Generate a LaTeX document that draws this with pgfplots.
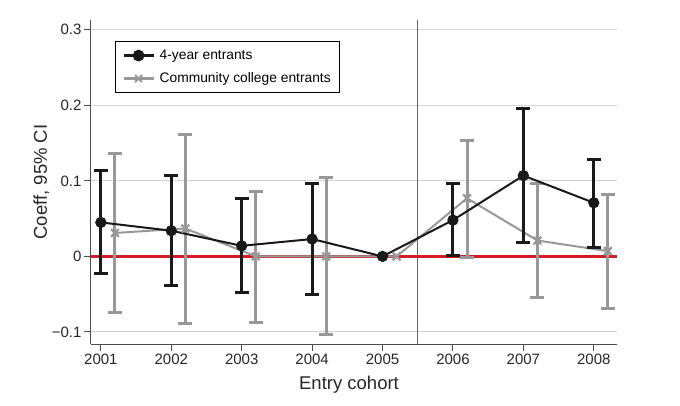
\documentclass[border=0pt]{standalone}
\usepackage{pgfplots}
\usepackage{pgfplotstable}
\pgfplotsset{compat=1.18}
\usepackage{fontspec}
\setmainfont{Liberation Sans}
\definecolor{axisgray}{RGB}{75,75,75}
\definecolor{gridgray}{RGB}{212,212,212}
\definecolor{vgray}{RGB}{100,100,100}
\definecolor{ccgray}{RGB}{152,152,152}
\definecolor{fyblack}{RGB}{25,25,25}
\definecolor{zred}{RGB}{212,28,34}

\pgfplotstableread{
x     y      lo      hi
2001  0.045  -0.023  0.114
2002  0.034  -0.039  0.107
2003  0.014  -0.048  0.076
2004  0.023  -0.051  0.097
2005  0.000   0.000  0.000
2006  0.048   0.001  0.096
2007  0.107   0.019  0.196
2008  0.071   0.012  0.128
}\fouryear
\pgfplotstableread{
x     y      lo      hi
2001  0.045  -0.023  0.114
2002  0.034  -0.039  0.107
2003  0.014  -0.048  0.076
2004  0.023  -0.051  0.097
2006  0.048   0.001  0.096
2007  0.107   0.019  0.196
2008  0.071   0.012  0.128
}\fouryearci
\pgfplotstableread{
x       y      lo      hi
2001.2  0.031  -0.074  0.136
2002.2  0.037  -0.089  0.162
2003.2  0.000  -0.087  0.086
2004.2  0.000  -0.103  0.104
2005.2  0.000   0.000  0.000
2006.2  0.077  -0.002  0.153
2007.2  0.021  -0.054  0.096
2008.2  0.007  -0.069  0.082
}\community
\pgfplotstableread{
x       y      lo      hi
2001.2  0.031  -0.074  0.136
2002.2  0.037  -0.089  0.162
2003.2  0.000  -0.087  0.086
2004.2  0.000  -0.103  0.104
2006.2  0.077  -0.002  0.153
2007.2  0.021  -0.054  0.096
2008.2  0.007  -0.069  0.082
}\communityci

\begin{document}
\begin{tikzpicture}
\begin{axis}[
  at={(0pt,0pt)}, anchor=south west,
  scale only axis, width=526pt, height=324pt,
  xmin=2000.86, xmax=2008.33, ymin=-0.116, ymax=0.313,
  axis lines=left,
  axis line style={-, draw=axisgray, line width=1pt},
  tick align=outside,
  major tick length=7pt,
  every tick/.style={axisgray, line width=1pt},
  xtick={2001,2002,2003,2004,2005,2006,2007,2008},
  xticklabels={2001,2002,2003,2004,2005,2006,2007,2008},
  ytick={-0.1,0,0.1,0.2,0.3},
  yticklabels={−0.1,0,0.1,0.2,0.3},
  tick label style={font=\fontsize{15}{18}\selectfont, text=black!85},
  xticklabel style={yshift=1pt},
  yticklabel style={xshift=1pt},
  ymajorgrids,
  grid style={gridgray, line width=0.9pt},
  xlabel={Entry cohort},
  ylabel={Coeff, 95\% CI},
  label style={font=\fontsize{18.5}{22}\selectfont, text=black!85},
  xlabel style={at={(axis description cs:0.5,0)}, anchor=base, yshift=-45pt, xshift=-5pt},
  ylabel style={at={(axis description cs:-0.0837,0.5)}, anchor=base},
  legend cell align=left,
  legend image code/.code={%
    \draw[mark repeat=2,mark phase=2,#1] plot coordinates {(0pt,0pt) (15pt,0pt) (30pt,0pt)};},
  legend style={at={(axis description cs:0.0456,0.935)}, anchor=north west,
    draw=black, line width=1pt, font=\fontsize{13.8}{16}\selectfont,
    inner xsep=6.5pt, inner ysep=5pt, row sep=5pt,
    nodes={inner sep=2.5pt, text height=10pt, text depth=3pt},
    /tikz/every odd column/.append style={column sep=2pt}},
  clip=false,
]
% vertical line
\addplot[vgray, line width=1.3pt, forget plot] coordinates {(2005.5,-0.116) (2005.5,0.313)};
% zero line
\addplot[zred, line width=2.3pt, forget plot] coordinates {(2000.86,0) (2008.33,0)};
% community college CIs
\addplot[ccgray, only marks, mark=none, forget plot,
  error bars/.cd, y dir=both, y explicit,
  error bar style={line width=3pt, ccgray},
  error mark options={rotate=90, mark size=7pt, line width=3pt, ccgray}]
  table[x=x, y=y, y error plus expr=\thisrow{hi}-\thisrow{y}, y error minus expr=\thisrow{y}-\thisrow{lo}] {\communityci};
% community college line
\addplot[ccgray, line width=2pt, mark=x, mark size=5.5pt, mark options={line width=2.2pt}, forget plot]
  table[x=x, y=y] {\community};
% 4-year CIs
\addplot[fyblack, only marks, mark=none, forget plot,
  error bars/.cd, y dir=both, y explicit,
  error bar style={line width=3pt, fyblack},
  error mark options={rotate=90, mark size=7pt, line width=3pt, fyblack}]
  table[x=x, y=y, y error plus expr=\thisrow{hi}-\thisrow{y}, y error minus expr=\thisrow{y}-\thisrow{lo}] {\fouryearci};
% 4-year line
\addplot[fyblack, line width=2pt, mark=*, mark size=4.6pt, forget plot]
  table[x=x, y=y] {\fouryear};
\addlegendimage{fyblack, line width=3.2pt, mark=*, mark size=4.2pt}
\addlegendentry{4-year entrants}
\addlegendimage{ccgray, line width=3.2pt, mark=x, mark size=5pt, mark options={line width=2pt}}
\addlegendentry{Community college entrants}
\end{axis}
\path (-91pt,-61pt) rectangle (589pt,344pt);
\end{tikzpicture}
\end{document}
